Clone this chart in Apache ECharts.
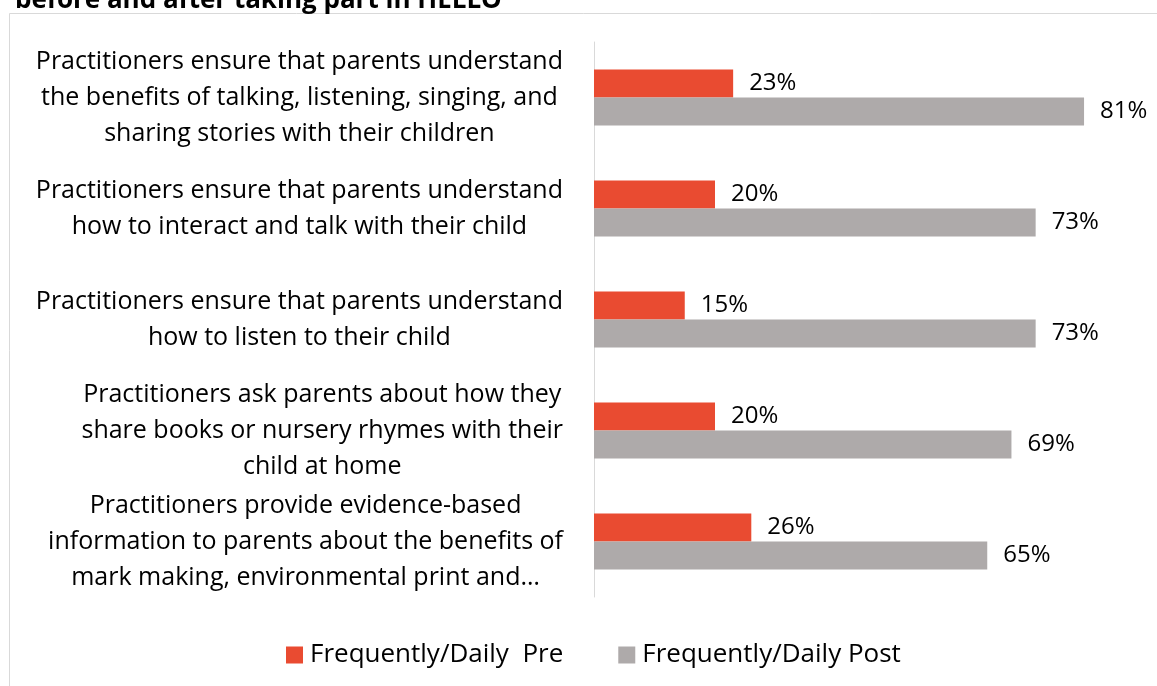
<!DOCTYPE html>
<html>
<head>
<meta charset="utf-8">
<script src="https://cdn.jsdelivr.net/npm/echarts@6/dist/echarts.min.js"></script>
<style>
  html, body { margin: 0; padding: 0; background: #ffffff; }
  #chart { width: 1157px; height: 686px; }
</style>
</head>
<body>
<div id="chart"></div>
<script>
// Survey statements (top to bottom), each split into its display lines
const categories = [
  ['Practitioners ensure that parents understand', 'the benefits of talking, listening, singing, and', 'sharing stories with their children'],
  ['Practitioners ensure that parents understand', 'how to interact and talk with their child'],
  ['Practitioners ensure that parents understand', 'how to listen to their child'],
  ['Practitioners ask parents about how they', 'share books or nursery rhymes with their', 'child at home'],
  ['Practitioners provide evidence-based', 'information to parents about the benefits of', 'mark making, environmental print and\u2026']
];
const seriesNames = ['Frequently/Daily  Pre', 'Frequently/Daily Post'];
const preValues = [23, 20, 15, 20, 26];
const postValues = [81, 73, 73, 69, 65];
const titleText = 'before and after taking part in HELLO';

const FONT = 'Open Sans';
const chart = echarts.init(document.getElementById('chart'), null, { renderer: 'canvas' });

const labelStyle = {
  show: true,
  position: 'right',
  distance: 16,
  formatter: '{c}%',
  color: '#000000',
  fontFamily: FONT,
  fontSize: 24
};

chart.setOption({
  animation: false,
  backgroundColor: '#ffffff',
  title: {
    text: titleText,
    left: 10,
    top: -17,
    textStyle: { fontFamily: FONT, fontWeight: 'bold', fontSize: 26, color: '#000000' }
  },
  graphic: [{
    type: 'rect',
    shape: { x: 9.5, y: 13.5, width: 1300, height: 1000 },
    style: { fill: 'none', stroke: '#d9d9d9', lineWidth: 1 },
    silent: true
  }],
  legend: {
    left: 281,
    top: 637,
    itemWidth: 17,
    itemHeight: 17,
    itemGap: 55,
    icon: 'rect',
    textStyle: { fontFamily: FONT, fontSize: 26, color: '#000000', padding: [0, 0, 0, 2] },
    data: seriesNames
  },
  grid: { left: 594, top: 42, width: 544.5, height: 555, containLabel: false },
  xAxis: {
    type: 'value',
    min: 0,
    max: 90,
    show: false
  },
  yAxis: {
    type: 'category',
    inverse: true,
    data: categories.map(lines => lines.join('\n')),
    axisLine: { show: true, lineStyle: { color: '#d9d9d9', width: 1 } },
    axisTick: { show: false },
    axisLabel: {
      margin: 31,
      color: '#000000',
      fontFamily: FONT,
      fontSize: 25,
      lineHeight: 36,
      formatter: v => v.split('\n').map(l => '{c|' + l + '}').join('\n'),
      rich: { c: { align: 'center', fontFamily: FONT, fontSize: 25, lineHeight: 36, color: '#000000' } }
    }
  },
  series: [
    {
      name: seriesNames[0],
      type: 'bar',
      data: preValues,
      barWidth: 28,
      barGap: '0%',
      itemStyle: { color: '#E94B31' },
      label: labelStyle
    },
    {
      name: seriesNames[1],
      type: 'bar',
      data: postValues,
      barWidth: 28,
      barGap: '0%',
      itemStyle: { color: '#AEAAAA' },
      label: labelStyle
    }
  ]
});
</script>
</body>
</html>
